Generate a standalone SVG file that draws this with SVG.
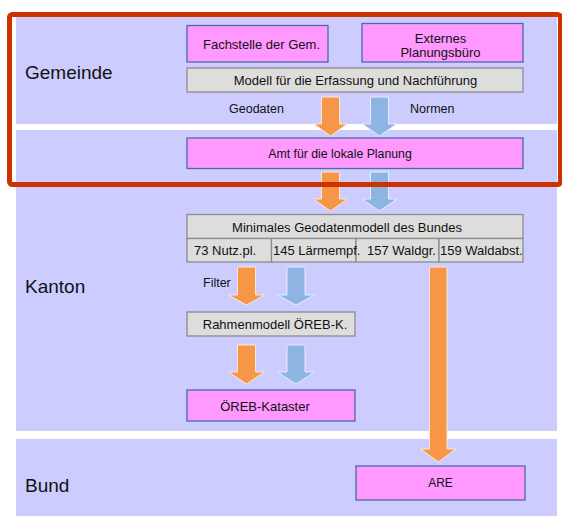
<svg xmlns="http://www.w3.org/2000/svg" width="562" height="516" viewBox="0 0 562 516">
<style>
.band{fill:#ccccff}
.pink{fill:#ff99ff;stroke:#4a6aa8;stroke-width:1.3}
.gray{fill:#dddddd;stroke:#8c8c8c;stroke-width:1.3}
text{font-family:"Liberation Sans",Arial,sans-serif;fill:#111}
.t{font-size:13px}
.lab{font-size:12.5px}
.big{font-size:19px}
.org{fill:#f79646;stroke:#fde9d9;stroke-width:1}
.blu{fill:#8db4e2;stroke:#e6eefa;stroke-width:1}
</style>
<rect width="562" height="516" fill="#ffffff"/>
<g id="bands">
<rect class="band" x="16" y="17" width="541" height="107"/>
<rect class="band" x="16" y="130" width="541" height="301"/>
<rect class="band" x="16" y="439" width="541" height="77"/>
</g>
<g id="lane-labels">
<text class="big" x="25" y="79">Gemeinde</text>
<text class="big" x="25" y="293">Kanton</text>
<text class="big" x="25" y="492">Bund</text>
</g>
<g id="fachstelle"><rect class="pink" x="187" y="25.5" width="141" height="36.5"/><text class="t" x="261.5" y="49" text-anchor="middle">Fachstelle der Gem.</text></g>
<g id="externes"><rect class="pink" x="362" y="23.5" width="161" height="38.5"/><text class="t" x="440.5" y="43" text-anchor="middle">Externes</text><text class="t" x="440.5" y="57" text-anchor="middle">Planungsbüro</text></g>
<g id="modell"><rect class="gray" x="187" y="68" width="336" height="24"/><text class="t" x="355.5" y="85" text-anchor="middle">Modell für die Erfassung und Nachführung</text></g>
<g id="label-geodaten"><text class="lab" x="229" y="113">Geodaten</text></g>
<g id="label-normen"><text class="lab" x="410" y="113">Normen</text></g>
<g id="amt"><rect class="pink" x="187" y="138" width="336" height="30.5"/><text class="t" x="340" y="158" text-anchor="middle" style="font-size:12.3px">Amt für die lokale Planung</text></g>
<g id="minimales">
<rect class="gray" x="187" y="214.5" width="336" height="24"/>
<text class="t" x="347" y="232" text-anchor="middle">Minimales Geodatenmodell des Bundes</text>
<rect class="gray" x="187" y="238.5" width="84.5" height="23.5"/>
<rect class="gray" x="271.5" y="238.5" width="84.5" height="23.5"/>
<rect class="gray" x="356" y="238.5" width="83" height="23.5"/>
<rect class="gray" x="439" y="238.5" width="84" height="23.5"/>
<text class="t" x="194" y="255">73 Nutz.pl.</text>
<text class="t" x="273" y="255">145 Lärmempf.</text>
<text class="t" x="367" y="255">157 Waldgr.</text>
<text class="t" x="440" y="255">159 Waldabst.</text>
</g>
<g id="label-filter"><text class="lab" x="203" y="287">Filter</text></g>
<g id="rahmenmodell"><rect class="gray" x="187" y="312" width="168" height="24"/><text class="t" x="275" y="329" text-anchor="middle">Rahmenmodell ÖREB-K.</text></g>
<g id="oereb-kataster"><rect class="pink" x="187" y="390" width="168" height="31"/><text class="t" x="265" y="411" text-anchor="middle">ÖREB-Kataster</text></g>
<g id="are"><rect class="pink" x="356" y="466" width="169" height="34"/><text x="440.5" y="487" text-anchor="middle" style="font-size:12px">ARE</text></g>
<g id="connectors">
<path class="org" d="M321.5,97H339.5V124H347L330.5,136L314,124H321.5Z"/>
<path class="blu" d="M370.5,97H388.5V124H396.5L379.5,136L362.5,124H370.5Z"/>
<path class="org" d="M321.5,172H339.5V199H347.5L330.5,211L313.5,199H321.5Z"/>
<path class="blu" d="M370.5,172H388.5V199H397L379.5,211L362,199H370.5Z"/>
<path class="org" d="M237.5,267H255.5V295H264.5L246.5,305L228.5,295H237.5Z"/>
<path class="blu" d="M287,267H305V295H314.5L296,305L277.5,295H287Z"/>
<path class="org" d="M237.5,345H255.5V372H264.5L246.5,384L228.5,372H237.5Z"/>
<path class="blu" d="M287,345H305V372H314.5L296,384L277.5,372H287Z"/>
<path class="org" d="M429.5,267H447V449H456L438.3,462L420.5,449H429.5Z"/>
</g>
<g id="highlight"><rect x="9.5" y="14.5" width="551" height="170" rx="3" fill="none" stroke="#cc3300" stroke-width="5"/></g>
</svg>
